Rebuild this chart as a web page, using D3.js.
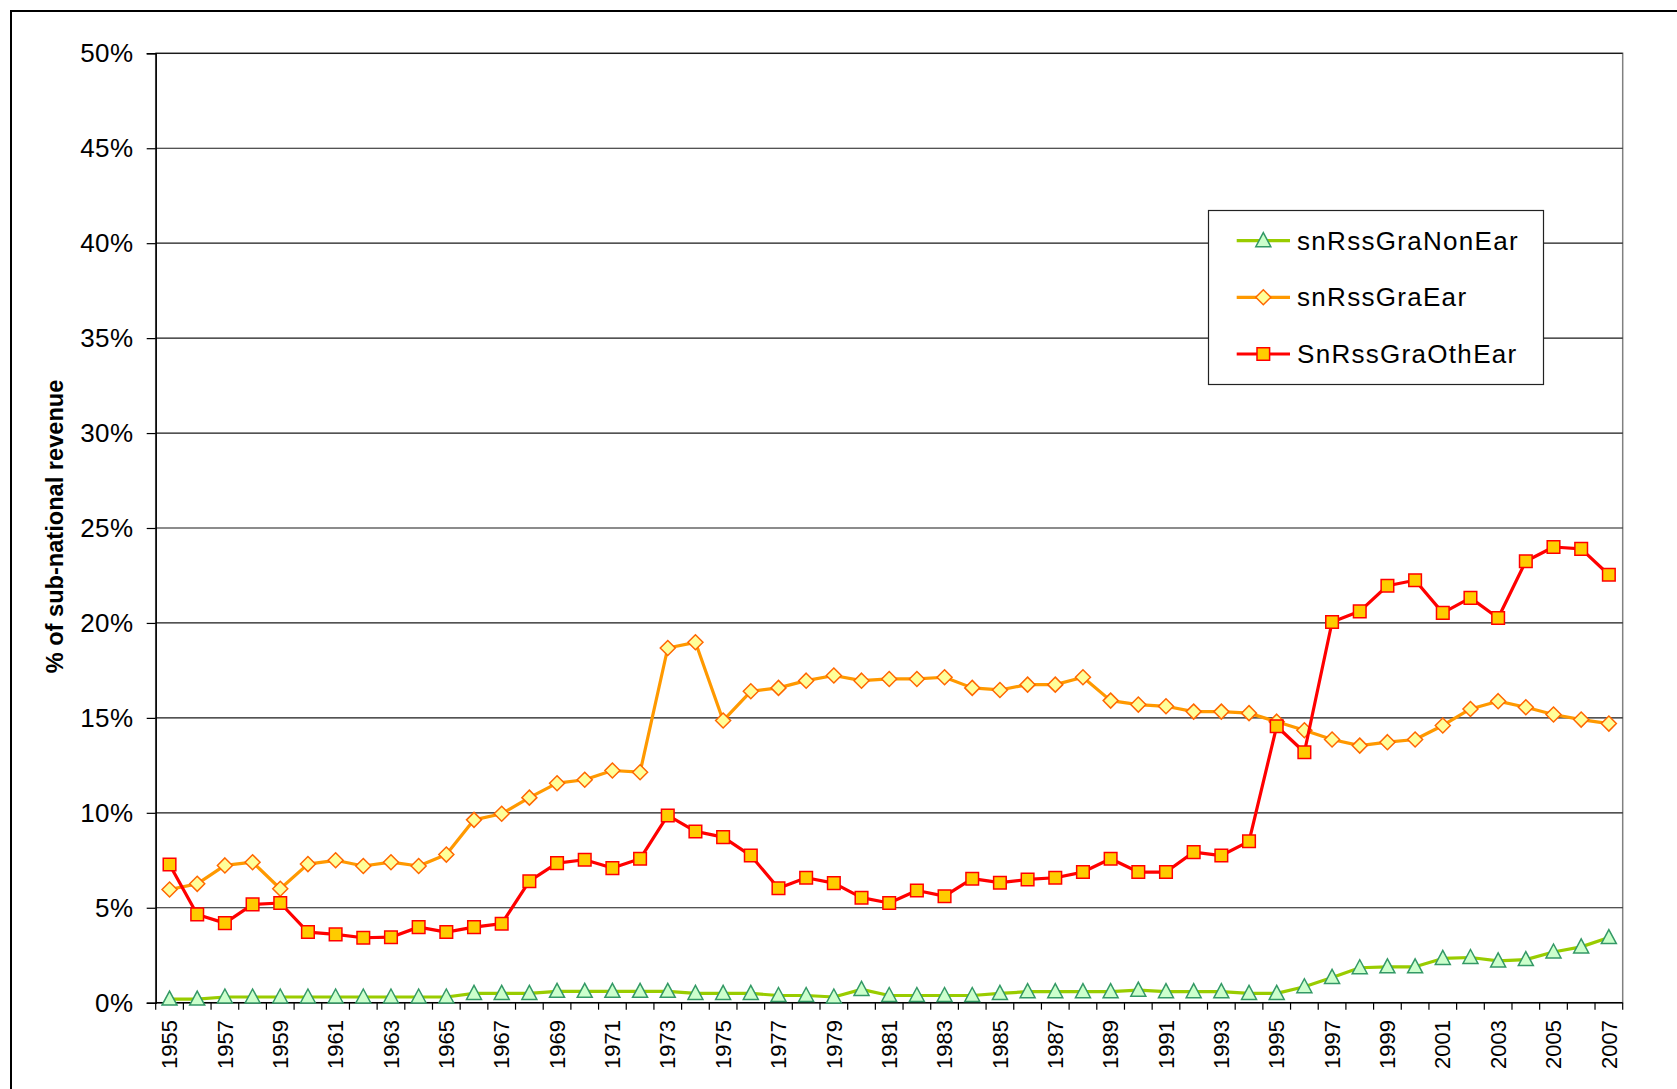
<!DOCTYPE html>
<html>
<head>
<meta charset="utf-8">
<script src="https://cdn.jsdelivr.net/npm/d3@7"></script>
<style>
  html, body { margin: 0; padding: 0; background: #fff; }
  svg { display: block; font-family: "Liberation Sans", Arial, sans-serif; }
</style>
</head>
<body>
<svg id="chart" width="1677" height="1089"></svg>
<script>
// ---------- data ----------
const years = [
  1955,1956,1957,1958,1959,1960,1961,1962,1963,1964,
  1965,1966,1967,1968,1969,1970,1971,1972,1973,1974,
  1975,1976,1977,1978,1979,1980,1981,1982,1983,1984,
  1985,1986,1987,1988,1989,1990,1991,1992,1993,1994,
  1995,1996,1997,1998,1999,2000,2001,2002,2003,2004,
  2005,2006,2007
];
const labelYears = [1955,1957,1959,1961,1963,1965,1967,1969,1971,1973,1975,1977,1979,1981,1983,1985,1987,1989,1991,1993,1995,1997,1999,2001,2003,2005,2007];
const yTicks = [0,0.05,0.10,0.15,0.20,0.25,0.30,0.35,0.40,0.45,0.50];

// values in percent
const snRssGraNonEar = [
  0.19,0.19,0.30,0.30,0.30,0.30,0.30,0.30,0.30,0.30,
  0.30,0.49,0.49,0.49,0.60,0.60,0.60,0.60,0.60,0.49,
  0.49,0.49,0.38,0.38,0.30,0.70,0.38,0.38,0.38,0.38,
  0.49,0.58,0.58,0.58,0.58,0.66,0.58,0.58,0.58,0.49,
  0.49,0.84,1.33,1.84,1.89,1.89,2.33,2.38,2.20,2.27,
  2.67,2.94,3.43
];
const snRssGraEar = [
  5.96,6.26,7.23,7.40,6.00,7.30,7.50,7.20,7.40,7.20,
  7.80,9.63,9.95,10.80,11.56,11.74,12.23,12.14,18.68,18.98,
  14.86,16.40,16.58,16.96,17.23,16.96,17.05,17.05,17.14,16.58,
  16.47,16.75,16.75,17.14,15.91,15.70,15.61,15.33,15.33,15.25,
  14.80,14.35,13.86,13.54,13.72,13.86,14.60,15.47,15.88,15.56,
  15.18,14.91,14.70
];
const SnRssGraOthEar = [
  7.28,4.65,4.19,5.18,5.25,3.72,3.60,3.42,3.45,3.98,
  3.72,3.98,4.16,6.40,7.35,7.53,7.09,7.58,9.86,9.02,
  8.72,7.75,6.03,6.58,6.30,5.53,5.25,5.91,5.61,6.53,
  6.32,6.49,6.58,6.88,7.58,6.88,6.88,7.93,7.75,8.50,
  14.56,13.19,20.05,20.61,21.96,22.25,20.53,21.32,20.26,23.25,
  24.00,23.90,22.54
];
const seriesNames = ["snRssGraNonEar","snRssGraEar","SnRssGraOthEar"];

// ---------- layout ----------
const svg = d3.select("#chart");
const L = 155.7, R = 1622.7, T = 53.3, B = 1002.7;

const x = d3.scaleBand().domain(years).range([L, R]).padding(0);
const y = d3.scaleLinear().domain([0, 0.5]).range([B, T]);
const cx = d => x(d) + x.bandwidth() / 2;

// outer frame
svg.append("rect").attr("x", 11).attr("y", 11).attr("width", 1720).attr("height", 1120)
  .attr("fill", "none").attr("stroke", "#000").attr("stroke-width", 2);

// plot area border (gray)
svg.append("rect").attr("x", L).attr("y", T).attr("width", R - L).attr("height", B - T)
  .attr("fill", "none").attr("stroke", "#808080").attr("stroke-width", 1.5);

// gridlines
svg.append("g").selectAll("line").data(yTicks.filter(d => d > 0)).join("line")
  .attr("x1", L).attr("x2", R)
  .attr("y1", d => y(d)).attr("y2", d => y(d))
  .attr("stroke", "#1a1a1a").attr("stroke-width", 1.2);

// y axis
const yAxis = svg.append("g").attr("transform", `translate(${L},0)`)
  .call(d3.axisLeft(y).tickValues(yTicks).tickFormat(d3.format(".0%")).tickSize(9).tickPadding(13));
yAxis.select(".domain").attr("stroke", "#000").attr("stroke-width", 1.5);
yAxis.selectAll(".tick line").attr("stroke", "#000").attr("stroke-width", 1.2);
yAxis.selectAll(".tick text").attr("font-size", 26).attr("fill", "#000")
  .attr("letter-spacing", "0.5px")
  .attr("font-family", "Liberation Sans, Arial, sans-serif");

// x axis line
svg.append("line").attr("x1", L).attr("x2", R).attr("y1", B).attr("y2", B)
  .attr("stroke", "#000").attr("stroke-width", 1.5);
// x ticks at category boundaries
const boundaries = years.map(d => x(d)).concat([x.range()[1]]);
svg.append("g").selectAll("line").data(boundaries).join("line")
  .attr("x1", d => d).attr("x2", d => d).attr("y1", B).attr("y2", B + 7)
  .attr("stroke", "#000").attr("stroke-width", 1.2);
// x labels
svg.append("g").selectAll("text").data(labelYears).join("text")
  .attr("transform", d => `translate(${cx(d)},1020) rotate(-90)`)
  .attr("text-anchor", "end").attr("dy", "0.35em")
  .attr("font-size", 22).attr("fill", "#000")
  .text(d => d);

// y title
svg.append("text").attr("transform", "translate(63,526.5) rotate(-90)")
  .attr("text-anchor", "middle").attr("font-size", 23.6).attr("font-weight", "bold")
  .attr("fill", "#000").text("% of sub-national revenue");

// ---------- series ----------
const styles = [
  { data: snRssGraNonEar, line: "#99cc00", fill: "#ccffcc", stroke: "#339966", marker: "triangle" },
  { data: snRssGraEar,    line: "#ff9900", fill: "#ffff99", stroke: "#ff6600", marker: "diamond" },
  { data: SnRssGraOthEar, line: "#ff0000", fill: "#ffcc00", stroke: "#ff0000", marker: "square" }
];

function markerPath(type) {
  if (type === "triangle") return "M0,-8 L7.5,6 L-7.5,6 Z";
  if (type === "diamond") return "M0,-7.5 L7.5,0 L0,7.5 L-7.5,0 Z";
  return "M-6.3,-6.3 L6.3,-6.3 L6.3,6.3 L-6.3,6.3 Z";
}

const line = d3.line().x(d => cx(d.year)).y(d => y(d.v / 100));

styles.forEach(s => {
  const pts = years.map((yr, i) => ({ year: yr, v: s.data[i] }));
  const g = svg.append("g");
  g.append("path").datum(pts).attr("d", line)
    .attr("fill", "none").attr("stroke", s.line).attr("stroke-width", 3.2)
    .attr("stroke-linejoin", "round");
  g.selectAll("path.m").data(pts).join("path").attr("class", "m")
    .attr("transform", d => `translate(${cx(d.year)},${y(d.v / 100)})`)
    .attr("d", markerPath(s.marker))
    .attr("fill", s.fill).attr("stroke", s.stroke).attr("stroke-width", 1.5);
});

// ---------- legend ----------
const lg = svg.append("g");
lg.append("rect").attr("x", 1208.5).attr("y", 210.5).attr("width", 335).attr("height", 174)
  .attr("fill", "#fff").attr("stroke", "#222").attr("stroke-width", 1.2);
const rowY = [240.7, 297.3, 354];
styles.forEach((s, i) => {
  const ry = rowY[i];
  lg.append("line").attr("x1", 1236.7).attr("x2", 1290).attr("y1", ry).attr("y2", ry)
    .attr("stroke", s.line).attr("stroke-width", 3.2);
  lg.append("path").attr("transform", `translate(1263.3,${ry})`).attr("d", markerPath(s.marker))
    .attr("fill", s.fill).attr("stroke", s.stroke).attr("stroke-width", 1.5);
  lg.append("text").attr("x", 1297).attr("y", ry).attr("dy", "0.35em")
    .attr("font-size", 26).attr("letter-spacing", "1.3px").attr("fill", "#000").text(seriesNames[i]);
});
</script>
</body>
</html>
